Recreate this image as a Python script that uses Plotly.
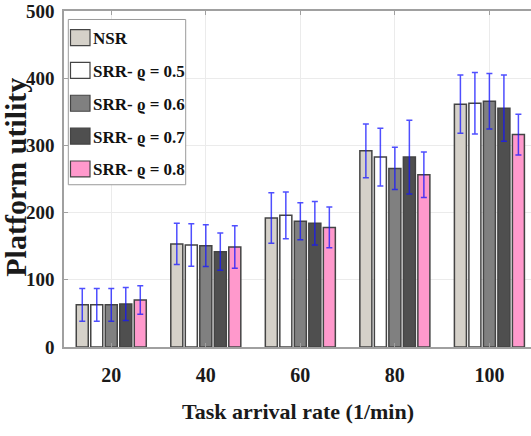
import plotly.graph_objects as go

categories = ["20", "40", "60", "80", "100"]
series_names = ["NSR", "SRR- ϱ = 0.5", "SRR- ϱ = 0.6", "SRR- ϱ = 0.7", "SRR- ϱ = 0.8"]
nsr = [62.7, 153.3, 192.0, 292.0, 361.4]
srr_05 = [62.7, 151.8, 195.9, 282.6, 362.8]
srr_06 = [62.7, 150.8, 187.0, 265.7, 365.8]
srr_07 = [64.0, 141.9, 184.0, 282.6, 355.4]
srr_08 = [70.0, 148.9, 178.0, 256.3, 316.2]
err_nsr = [24.3, 30.7, 37.5, 40.0, 43.4]
err_05 = [24.3, 31.5, 34.7, 43.0, 45.7]
err_06 = [24.3, 31.0, 27.5, 31.5, 41.3]
err_07 = [24.5, 27.7, 32.4, 55.0, 49.3]
err_08 = [21.3, 31.7, 30.3, 34.0, 30.3]
y_ticks = [0, 100, 200, 300, 400, 500]

values = [nsr, srr_05, srr_06, srr_07, srr_08]
errors = [err_nsr, err_05, err_06, err_07, err_08]
colors = ["#d5d1c9", "#ffffff", "#808080", "#4f4f4f", "#ff99cc"]

FONT = "Liberation Serif"
W, H = 531, 436
ML, MT, MB = 64, 11, 88.5
PW, PH = W - ML, H - MT - MB


def px_x(p):
    return (p - ML) / PW


def px_y(p):
    return (H - MB - p) / PH


fig = go.Figure()
for i, (name, vals, errs, col) in enumerate(zip(series_names, values, errors, colors)):
    fig.add_trace(go.Bar(
        x=categories, y=vals, name=name, showlegend=False,
        marker=dict(color=col, line=dict(color="#444444", width=1.5)),
        error_y=dict(type="data", array=errs, visible=True,
                     color="rgba(20,20,255,0.75)", thickness=1.5, width=3),
    ))

fig.update_layout(
    template="none",
    width=W, height=H,
    margin=dict(l=ML, r=0, t=MT, b=MB, autoexpand=False),
    paper_bgcolor="white", plot_bgcolor="white",
    barmode="group", bargap=0.233, bargroupgap=0.172,
    font=dict(family=FONT, color="#1a1a1a"),
    showlegend=False,
)
fig.update_xaxes(
    range=[-0.5, 4.44], type="category", automargin=False,
    showgrid=True, gridcolor="#ebebeb", gridwidth=1,
    showline=True, linecolor="#a0a0a0", linewidth=1.5, mirror="ticks",
    ticks="inside", ticklen=4, tickcolor="#a0a0a0",
    tickfont=dict(family=FONT, size=20, weight="bold", color="#1a1a1a"),
    ticklabelstandoff=9,
)
fig.update_yaxes(
    range=[0, 500], tickvals=y_ticks, automargin=False,
    showgrid=True, gridcolor="#ebebeb", gridwidth=1,
    showline=True, linecolor="#a0a0a0", linewidth=1.5,
    ticks="inside", ticklen=4, tickcolor="#a0a0a0",
    tickfont=dict(family=FONT, size=19, weight="bold", color="#1a1a1a"),
    ticklabelstandoff=4, zeroline=False,
)

# legend box (drawn manually to match the reference's compact layout)
fig.add_shape(type="rect", xref="paper", yref="paper", layer="above",
              x0=px_x(68.3), x1=px_x(185.7), y0=px_y(185), y1=px_y(19.5),
              fillcolor="white", line=dict(color="#9a9a9a", width=1))
item_centers = [37.7, 70.5, 103.4, 136.3, 169.2]
for name, col, cy in zip(series_names, colors, item_centers):
    fig.add_shape(type="rect", xref="paper", yref="paper", layer="above",
                  x0=px_x(70.5), x1=px_x(90), y0=px_y(cy + 8), y1=px_y(cy - 8),
                  fillcolor=col, line=dict(color="#444444", width=1.2))
    fig.add_annotation(text=name, xref="paper", yref="paper",
                       x=px_x(90.5), y=px_y(cy + 1), xanchor="left", yanchor="middle",
                       showarrow=False,
                       font=dict(family=FONT, size=17, weight="bold", color="#111111"))

fig.add_annotation(
    text="Task arrival rate (1/min)", xref="paper", yref="paper",
    x=px_x(298), y=px_y(412), xanchor="center", yanchor="middle", showarrow=False,
    font=dict(family=FONT, size=22, weight="bold", color="#1a1a1a"),
)
fig.add_annotation(
    text="Platform utility", xref="paper", yref="paper",
    x=px_x(16), y=px_y(178), xanchor="center", yanchor="middle", showarrow=False,
    textangle=-90,
    font=dict(family=FONT, size=30, weight="bold", color="#1a1a1a"),
)

fig.write_html("out.html", post_script="document.body.style.margin='0';",
               config={"displayModeBar": False})
